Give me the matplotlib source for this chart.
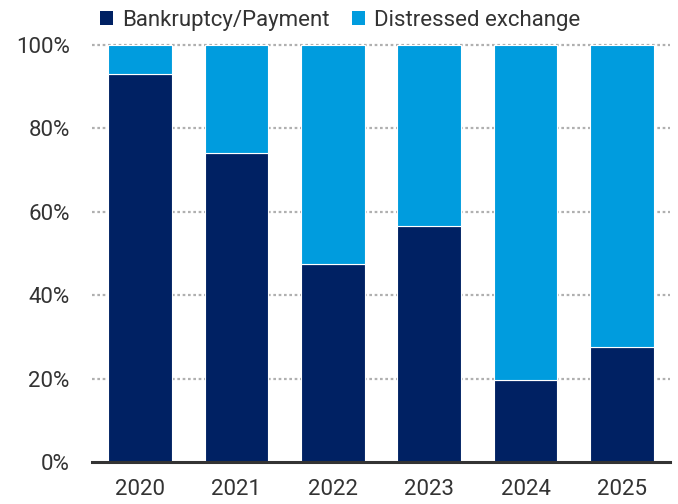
import matplotlib
matplotlib.use("Agg")
import matplotlib.pyplot as plt
from matplotlib.patches import Patch
import numpy as np

years = ["2020", "2021", "2022", "2023", "2024", "2025"]
bankruptcy = [93, 74, 47.5, 56.6, 19.7, 27.6]
distressed = [100 - v for v in bankruptcy]
series_names = ["Bankruptcy/Payment", "Distressed exchange"]
yticks = [0, 20, 40, 60, 80, 100]
ytick_labels = ["0%", "20%", "40%", "60%", "80%", "100%"]

dark = "#002163"
light = "#009CDE"
fam = ["Roboto", "DejaVu Sans"]
plt.rcParams["font.family"] = fam

fig = plt.figure(figsize=(6.78, 5.04), dpi=100)
ax = fig.add_axes([92/678, 1-462/504, 578/678, (462-45)/504])

x = np.arange(len(years))
ax.bar(x, bankruptcy, width=0.66, color=dark, edgecolor="white", linewidth=0.8, zorder=3)
ax.bar(x, distressed, bottom=bankruptcy, width=0.66, color=light, edgecolor="white", linewidth=0.8, zorder=3)

ax.set_xlim(-0.5, len(years) - 0.5)
ax.set_ylim(0, 100)
for v in yticks[1:]:
    ax.axhline(v, color="#b0b0b0", linestyle=(0, (1.2, 1.2)), linewidth=1.6, zorder=1, clip_on=False)
ax.axhline(0, color="#333333", linewidth=2.2, zorder=4, clip_on=False)

ax.set_yticks(yticks)
ax.set_yticklabels(ytick_labels)
ax.set_xticks(x)
ax.set_xticklabels(years)
ax.tick_params(axis="both", length=0, labelsize=16, colors="#333333")
ax.tick_params(axis="y", pad=16)
ax.tick_params(axis="x", pad=12)
for s in ax.spines.values():
    s.set_visible(False)

handles = [Patch(facecolor=dark, edgecolor="none"), Patch(facecolor=light, edgecolor="none")]
fig.legend(handles, series_names, loc="upper left", bbox_to_anchor=(90/678, 1.0), ncol=2,
           frameon=False, fontsize=16, handlelength=0.6, handleheight=0.6, handletextpad=0.4,
           columnspacing=1.0, labelcolor="#333333", borderaxespad=0.0, borderpad=0.45)

fig.savefig("out.png", dpi=100)
